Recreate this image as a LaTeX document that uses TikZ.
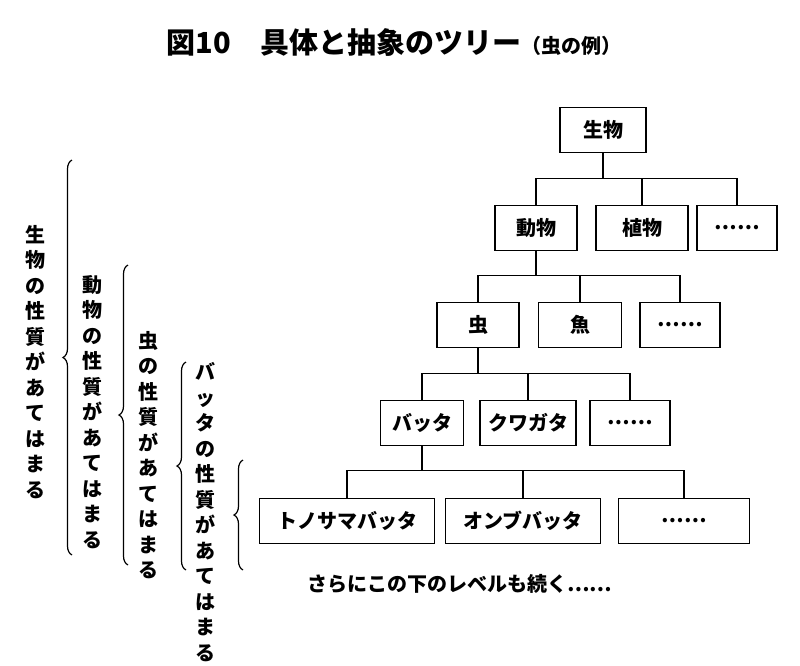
\documentclass[tikz,border=0pt]{standalone}
\usepackage{fontspec}
\setmainfont{Noto Sans CJK JP}
\usetikzlibrary{decorations.pathreplacing}
\begin{document}
\begin{tikzpicture}[x=1pt,y=-1pt,
  bx/.style={draw,line width=1.4pt,minimum height=45pt,inner sep=0pt,font=\fontsize{20}{20}\selectfont\bfseries},
  ln/.style={line width=1.4pt},
  vt/.style={align=center,font=\fontsize{20}{25.5}\selectfont\bfseries,inner sep=0pt},
  br/.style={decorate,decoration={brace,amplitude=9pt},line width=1.2pt}]
\useasboundingbox (0,0) rectangle (800,665);
\node[font=\fontsize{29}{29}\selectfont\bfseries] (t) at (394,42) {図10\hspace{1em}具体と抽象のツリー{\fontsize{20}{20}\selectfont（虫の例）}};
\node[bx,minimum width=86pt] (s) at (603,130) {生物};
\node[bx,minimum width=82pt] (d) at (536,228) {動物};
\node[bx,minimum width=92pt] (p) at (642,228) {植物};
\node[bx,minimum width=80pt] (e2) at (737,228) {……};
\node[bx,minimum width=82pt] (m) at (478,325) {虫};
\node[bx,minimum width=83pt] (f) at (580,325) {魚};
\node[bx,minimum width=80pt] (e3) at (680,325) {……};
\node[bx,minimum width=83pt] (b) at (422,423) {バッタ};
\node[bx,minimum width=96pt] (k) at (528,423) {クワガタ};
\node[bx,minimum width=80pt] (e4) at (630,423) {……};
\node[bx,minimum width=175pt] (tn) at (347,521) {トノサマバッタ};
\node[bx,minimum width=155pt] (o) at (523,521) {オンブバッタ};
\node[bx,minimum width=131pt] (e5) at (684,521) {……};
\foreach \c in {d,p,e2}{\draw[ln] (s.south) -- ++(0,25) -| (\c.north);}
\foreach \c in {m,f,e3}{\draw[ln] (d.south) -- ++(0,24) -| (\c.north);}
\foreach \c in {b,k,e4}{\draw[ln] (m.south) -- ++(0,25) -| (\c.north);}
\foreach \c in {tn,o,e5}{\draw[ln] (b.south) -- ++(0,24) -| (\c.north);}
\node[font=\fontsize{20}{20}\selectfont\bfseries] (n) at (460,584) {さらにこの下のレベルも続く……};
\node[vt] (v1) at (35,362) {生\\物\\の\\性\\質\\が\\あ\\て\\は\\ま\\る};
\node[vt] (v2) at (92,412) {動\\物\\の\\性\\質\\が\\あ\\て\\は\\ま\\る};
\node[vt] (v3) at (148,455) {虫\\の\\性\\質\\が\\あ\\て\\は\\ま\\る};
\node[vt] (v4) at (205,512) {バ\\ッ\\タ\\の\\性\\質\\が\\あ\\て\\は\\ま\\る};
\coordinate (b1a) at (72,555); \coordinate (b1b) at (72,160);
\coordinate (b2a) at (128,565); \coordinate (b2b) at (128,265);
\coordinate (b3a) at (186,570); \coordinate (b3b) at (186,362);
\coordinate (b4a) at (243,570); \coordinate (b4b) at (243,460);
\draw[br] (b1a) -- (b1b);
\draw[br] (b2a) -- (b2b);
\draw[br] (b3a) -- (b3b);
\draw[br] (b4a) -- (b4b);
\end{tikzpicture}
\end{document}
